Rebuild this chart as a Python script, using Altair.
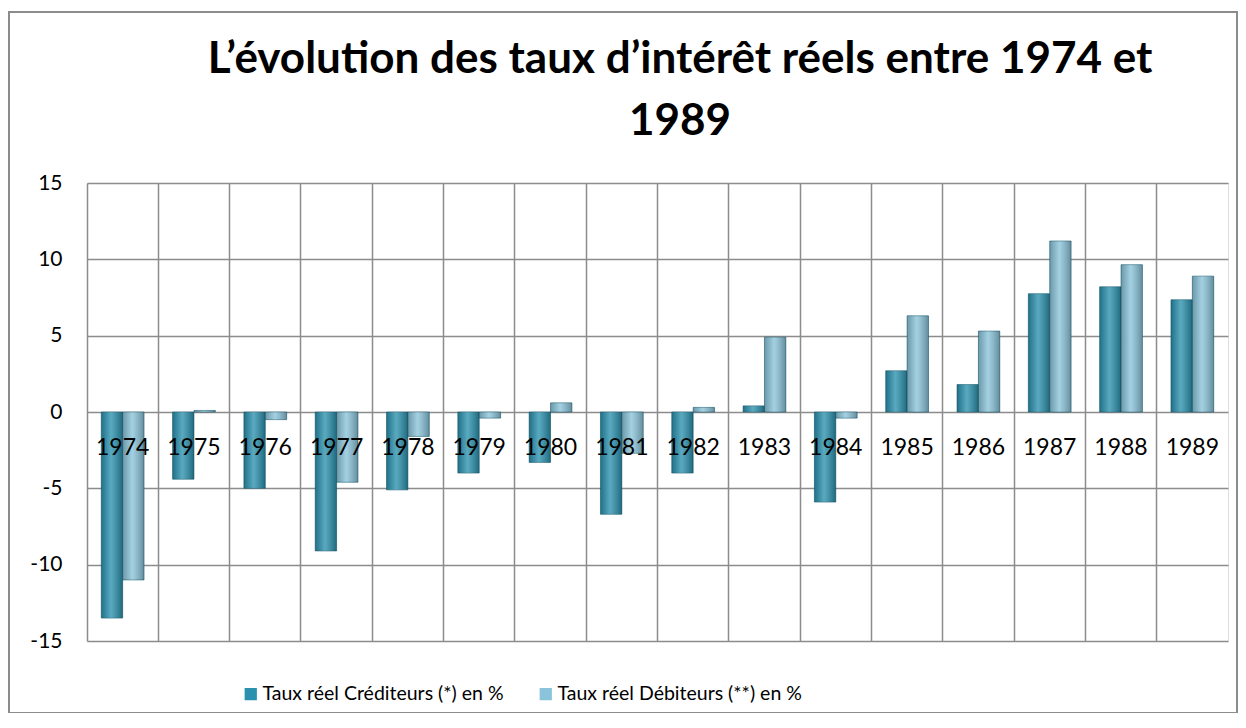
import altair as alt
import pandas as pd

years = [str(y) for y in range(1974, 1990)]
crediteurs = [-13.5, -4.4, -5.0, -9.1, -5.1, -4.0, -3.3, -6.7, -4.0, 0.4, -5.9, 2.7, 1.8, 7.75, 8.2, 7.35]
debiteurs = [-11.0, 0.1, -0.5, -4.6, -1.6, -0.4, 0.6, -2.7, 0.3, 4.9, -0.4, 6.3, 5.3, 11.2, 9.65, 8.9]
series = ["Taux réel Créditeurs (*) en %", "Taux réel Débiteurs (**) en %"]
colors = ["#2A91AE", "#8AC4DA"]
y_ticks = [-15, -10, -5, 0, 5, 10, 15]
title_lines = ["L’évolution des taux d’intérêt réels entre 1974 et", "1989"]

rows = []
for i, yr in enumerate(years):
    rows.append({"year": yr, "series": series[0], "value": crediteurs[i]})
    rows.append({"year": yr, "series": series[1], "value": debiteurs[i]})
df = pd.DataFrame(rows)
labels_df = pd.DataFrame({"year": years, "zero": [0] * len(years)})
one = pd.DataFrame({"a": [0]})

GRID = "#8c8c8c"

x_enc = alt.X(
    "year:N", sort=years,
    scale=alt.Scale(paddingInner=0, paddingOuter=0),
    axis=alt.Axis(labels=False, ticks=False, domain=False, grid=True, bandPosition=0,
                  gridColor=GRID, gridWidth=1.5, title=None),
)
xoff = alt.XOffset("series:N", sort=series, scale=alt.Scale(paddingOuter=0.667, paddingInner=0))
y_enc = alt.Y(
    "value:Q",
    scale=alt.Scale(domain=[-15, 15], nice=False, zero=False),
    axis=alt.Axis(values=y_ticks, ticks=False, domain=False, grid=True, gridColor=GRID,
                  gridWidth=1.5, labelFontSize=21, labelFont="Lato", labelColor="#000000",
                  labelPadding=25, labelExpr="'' + datum.value", title=None),
)

bars = alt.Chart(df).mark_bar(stroke="#1d5f73", strokeWidth=0.6).encode(
    x=x_enc, xOffset=xoff, y=y_enc,
    color=alt.Color(
        "series:N", sort=series,
        scale=alt.Scale(domain=series, range=colors),
        legend=alt.Legend(
            title=None, orient="none", legendX=154, legendY=501, direction="horizontal",
            symbolType="square", symbolSize=150, symbolStrokeWidth=0,
            labelFontSize=19.5, labelFont="Lato", labelColor="#000000", labelOffset=2,
            labelLimit=0, columnPadding=32, padding=0,
        ),
    ),
)

shade = alt.Gradient(
    gradient="linear", x1=0, x2=1, y1=0, y2=0,
    stops=[
        alt.GradientStop(offset=0, color="rgba(0,0,0,0.22)"),
        alt.GradientStop(offset=0.45, color="rgba(255,255,255,0.22)"),
        alt.GradientStop(offset=1, color="rgba(0,0,0,0.28)"),
    ],
)
bars_shade = alt.Chart(df).mark_bar(fill=shade).encode(
    x=x_enc, xOffset=xoff, y=alt.Y("value:Q")
)

year_labels = alt.Chart(labels_df).mark_text(
    baseline="alphabetic", dy=43, fontSize=23, font="Lato", color="#000000"
).encode(x=alt.X("year:N", sort=years), y=alt.Y("zero:Q"), text="year:N")

frame = alt.Chart(one).mark_rect(
    fill=None, stroke="#8c8c8c", strokeWidth=2
).encode(x=alt.value(-78), x2=alt.value(1150), y=alt.value(-171), y2=alt.value(530))

title1 = alt.Chart(one).mark_text(
    fontSize=44, font="Lato", fontWeight="bold", color="#000000",
    align="center", baseline="alphabetic",
).encode(x=alt.value(593), y=alt.value(-110), text=alt.value(title_lines[0]))
title2 = alt.Chart(one).mark_text(
    fontSize=44, font="Lato", fontWeight="bold", color="#000000",
    align="center", baseline="alphabetic",
).encode(x=alt.value(593), y=alt.value(-48), text=alt.value(title_lines[1]))

chart = alt.layer(bars, bars_shade, year_labels, frame, title1, title2).properties(
    width=1141, height=458,
    autosize=alt.AutoSizeParams(type="none"),
    padding={"left": 79, "top": 175, "right": 10, "bottom": 72},
).configure_view(stroke=GRID, strokeWidth=1.5).configure(background="white")

chart.save("out.html", embed_options={"renderer": "svg", "actions": False})
